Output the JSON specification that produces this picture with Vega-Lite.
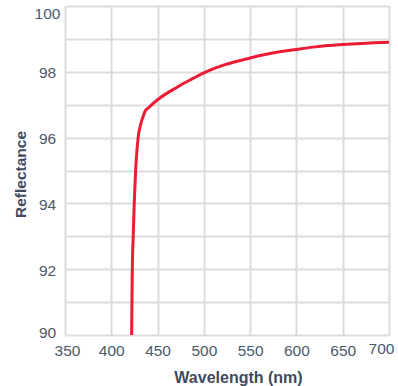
{
  "$schema": "https://vega.github.io/schema/vega-lite/v6.json",
  "autosize": "none",
  "padding": {"left": 65, "top": 6, "right": 9, "bottom": 51},
  "width": 324,
  "height": 329,
  "background": "white",
  "config": {
    "view": {"stroke": null},
    "font": "Liberation Sans"
  },
  "data": {
    "values": [
      {"wavelength": 422.0, "reflectance": 90.0},
      {"wavelength": 422.3, "reflectance": 91.0},
      {"wavelength": 422.7, "reflectance": 92.0},
      {"wavelength": 423.7, "reflectance": 93.0},
      {"wavelength": 424.8, "reflectance": 94.0},
      {"wavelength": 426.3, "reflectance": 95.0},
      {"wavelength": 429.0, "reflectance": 96.0},
      {"wavelength": 431.7, "reflectance": 96.4},
      {"wavelength": 434.5, "reflectance": 96.65},
      {"wavelength": 436.5, "reflectance": 96.8},
      {"wavelength": 440.0, "reflectance": 96.9},
      {"wavelength": 450.0, "reflectance": 97.15},
      {"wavelength": 471.0, "reflectance": 97.53},
      {"wavelength": 485.0, "reflectance": 97.75},
      {"wavelength": 500.0, "reflectance": 97.97},
      {"wavelength": 522.0, "reflectance": 98.21},
      {"wavelength": 550.0, "reflectance": 98.42},
      {"wavelength": 574.0, "reflectance": 98.57},
      {"wavelength": 600.0, "reflectance": 98.68},
      {"wavelength": 618.0, "reflectance": 98.75},
      {"wavelength": 650.0, "reflectance": 98.83},
      {"wavelength": 700.0, "reflectance": 98.9}
    ]
  },
  "mark": {"type": "line", "color": "#ec1c34", "strokeWidth": 3, "interpolate": "monotone", "clip": true},
  "encoding": {
    "x": {
      "field": "wavelength",
      "type": "quantitative",
      "scale": {"domain": [350, 700], "nice": false},
      "axis": {
        "values": [350, 400, 450, 500, 550, 600, 650, 700],
        "title": "Wavelength (nm)",
        "grid": true,
        "gridColor": "#dcdcdc",
        "gridWidth": 2,
        "domain": false,
        "ticks": false,
        "labelOverlap": false,
        "labelBound": false,
        "labelFlush": false,
        "labelPadding": {"condition": {"test": "datum.value == 700", "value": 6}, "value": 8},
        "labelOffset": {"condition": [{"test": "datum.value == 700", "value": -8}, {"test": "datum.value == 350", "value": 2}], "value": 0},
        "labelFontSize": 15.5,
        "labelColor": "#4b596b",
        "titleFontSize": 16,
        "titleFontWeight": "bold",
        "titleColor": "#3f4b5c",
        "titlePadding": 11,
        "titleX": 173
      }
    },
    "y": {
      "field": "reflectance",
      "type": "quantitative",
      "scale": {"domain": [90, 100], "nice": false, "zero": false},
      "axis": {
        "values": [90, 91, 92, 93, 94, 95, 96, 97, 98, 99, 100],
        "labelExpr": "datum.value % 2 == 0 ? datum.label : ''",
        "title": "Reflectance",
        "grid": true,
        "gridColor": "#dcdcdc",
        "gridWidth": 2,
        "domain": false,
        "ticks": false,
        "labelOverlap": false,
        "labelFlush": false,
        "labelAlign": "center",
        "labelPadding": 18,
        "labelOffset": {"condition": [{"test": "datum.value == 100", "value": 7}, {"test": "datum.value == 90", "value": -3}], "value": 1},
        "labelFontSize": 15.5,
        "labelColor": "#4b596b",
        "titleFontSize": 15.5,
        "titleFontWeight": "bold",
        "titleColor": "#3f4b5c",
        "titlePadding": 6,
        "titleY": 168
      }
    }
  }
}
